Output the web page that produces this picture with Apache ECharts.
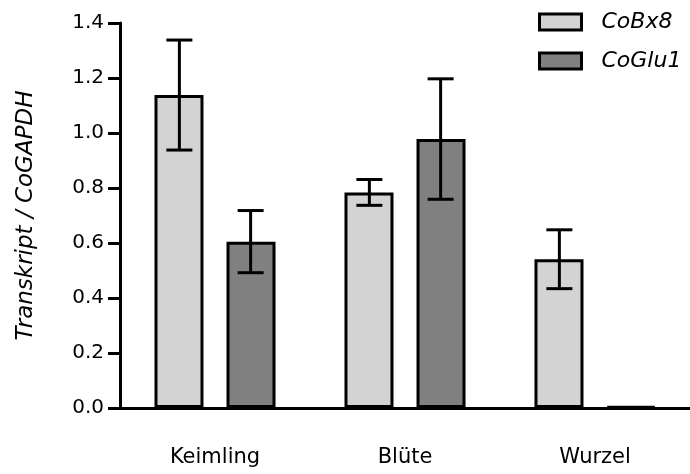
<!DOCTYPE html>
<html><head><meta charset="utf-8">
<script src="https://cdn.jsdelivr.net/npm/echarts@6/dist/echarts.min.js"></script>
<style>html,body{margin:0;padding:0;background:#fff}#c{width:690px;height:474px}</style>
</head><body><div id="c"></div>
<script>
const categories = ['Keimling', 'Blüte', 'Wurzel'];
const seriesNames = ['CoBx8', 'CoGlu1'];
const coBx8 = [1.138, 0.784, 0.541];
const coBx8Err = [0.200, 0.047, 0.107];
const coGlu1 = [0.605, 0.978, 0.005];
const coGlu1Err = [0.113, 0.219, 0.0];
const yTicks = [0, 0.2, 0.4, 0.6, 0.8, 1.0, 1.2, 1.4];

const FONT = '"DejaVu Sans", sans-serif';
const chart = echarts.init(document.getElementById('c'));

function errSeries(vals, errs, sign) {
  return {
    type: 'custom',
    silent: true,
    z: 5,
    data: vals.map((v, i) => [i, v, errs[i]]),
    renderItem: function (params, api) {
      const i = api.value(0), v = api.value(1), e = api.value(2);
      if (e <= 0) return null;
      const catW = api.size([1, 0])[0];
      const off = sign * catW * 0.1875;
      const top = api.coord([i, v + e]);
      const bot = api.coord([i, v - e]);
      const x = top[0] + off;
      const cap = 13;
      const st = { stroke: '#000', lineWidth: 3 };
      return {
        type: 'group',
        children: [
          { type: 'line', shape: { x1: x, y1: top[1], x2: x, y2: bot[1] }, style: st },
          { type: 'line', shape: { x1: x - cap, y1: top[1], x2: x + cap, y2: top[1] }, style: st },
          { type: 'line', shape: { x1: x - cap, y1: bot[1], x2: x + cap, y2: bot[1] }, style: st }
        ]
      };
    }
  };
}

chart.setOption({
  animation: false,
  backgroundColor: '#fff',
  grid: { left: 120, right: -6, top: 23, bottom: 66 },
  legend: {
    orient: 'vertical',
    left: 533, top: 6,
    icon: 'rect',
    itemWidth: 42, itemHeight: 16, itemGap: 17,
    itemStyle: { borderColor: '#000', borderWidth: 3 },
    data: seriesNames,
    textStyle: { fontFamily: FONT, fontSize: 22, fontStyle: 'italic', color: '#000', padding: [0, 0, 0, 15] }
  },
  xAxis: {
    type: 'category',
    data: categories,
    axisLine: { lineStyle: { color: '#000', width: 3 } },
    axisTick: { alignWithLabel: true, length: 11, lineStyle: { color: '#000', width: 3 } },
    axisLabel: { fontFamily: FONT, fontSize: 21, color: '#000', margin: 39 }
  },
  yAxis: {
    type: 'value',
    min: 0, max: 1.4, interval: 0.2,
    name: 'Transkript / CoGAPDH',
    nameLocation: 'middle',
    nameGap: 82,
    nameTextStyle: { fontFamily: FONT, fontSize: 23, fontStyle: 'italic', color: '#000' },
    splitLine: { show: false },
    axisLine: { show: true, lineStyle: { color: '#000', width: 3 } },
    axisTick: { show: true, length: 12, lineStyle: { color: '#000', width: 3 } },
    axisLabel: {
      fontFamily: FONT, fontSize: 20, color: '#000', margin: 16,
      formatter: v => v.toFixed(1)
    }
  },
  series: [
    {
      name: seriesNames[0], type: 'bar', data: coBx8, barWidth: 49, barGap: '47%',
      itemStyle: { color: '#d3d3d3', borderColor: '#000', borderWidth: 3 }
    },
    {
      name: seriesNames[1], type: 'bar', data: coGlu1, barWidth: 49, barGap: '47%',
      itemStyle: { color: '#808080', borderColor: '#000', borderWidth: 3 }
    },
    errSeries(coBx8, coBx8Err, -1),
    errSeries(coGlu1, coGlu1Err, 1)
  ]
});
</script></body></html>
